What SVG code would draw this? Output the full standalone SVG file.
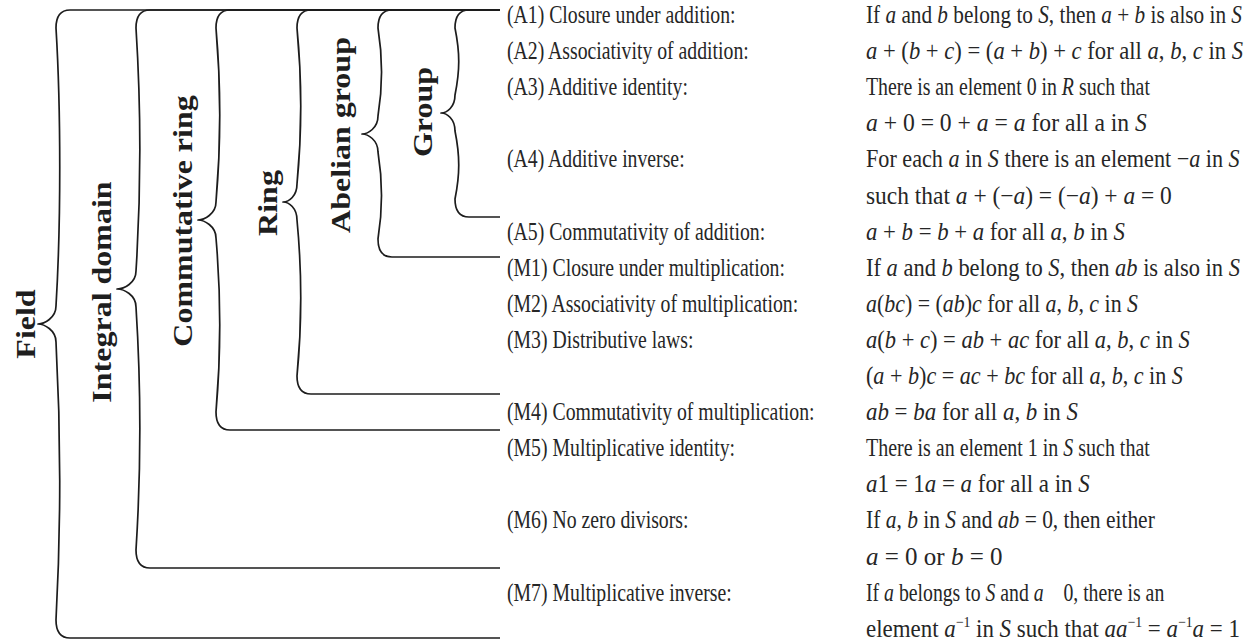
<svg xmlns="http://www.w3.org/2000/svg" width="1250" height="643" viewBox="0 0 1250 643">
  <style>
    .br { fill: none; stroke: #1c1c1c; stroke-width: 1.7; stroke-linejoin: round; }
    .lbl { font-family: "Liberation Serif", "Times New Roman", serif; font-weight: bold; font-size: 32px; fill: #1e1e1e; text-anchor: middle; }
    .ax { font-family: "Liberation Serif", "Times New Roman", serif; font-size: 25px; fill: #262626; }
    .i { font-style: italic; }
    .sup { font-size: 15px; }
  </style>
  <rect width="1250" height="643" fill="#ffffff"/>

  <!-- nested braces: each one spans the axioms its structure requires -->
  <g id="braces">
    <path class="br" d="M500 10 H70 C60 10 56 16 56 28 C61 111 61 223 56 306 C56 318 44 324 38 324 C44 324 56 330 56 342 C61 435 61 527 56 620 C56 632 60 638 70 638 H500"/>
    <path class="br" d="M500 10 H150 C140 10 136 16 136 28 C141 107 141 192 136 271 C136 283 124 289 117 289 C124 289 136 295 136 307 C141 386 141 471 136 550 C136 562 140 568 150 568 H500"/>
    <path class="br" d="M500 10 H230 C220 10 216 16 216 28 C221 86 221 144 216 202 C216 214 204 220 198 220 C204 220 216 226 216 238 C221 296 221 354 216 412 C216 424 220 430 230 430 H500"/>
    <path class="br" d="M500 10 H311 C301 10 297 16 297 28 C302 80 302 132 297 184 C297 196 289 202 283 202 C289 202 297 208 297 220 C302 272 302 324 297 376 C297 388 301 394 311 394 H500"/>
    <path class="br" d="M500 10 H392 C382 10 378 16 378 28 C383 59 383 85 378 116 C378 128 368 134 362 134 C368 134 378 140 378 152 C383 183 383 208 378 239 C378 251 382 257 392 257 H500"/>
    <path class="br" d="M500 10 H469 C459 10 455 16 455 28 C460 53 460 70 455 95 C455 107 447 113 441 113 C447 113 455 119 455 131 C460 156 460 174 455 199 C455 211 459 217 469 217 H500"/>
  </g>

  <!-- structure names, set vertically beside their brace tips -->
  <g id="field"><text class="lbl" transform="translate(35 324) rotate(-90) scale(1 0.85)">Field</text></g>
  <g id="integral-domain"><text class="lbl" transform="translate(111 292) rotate(-90) scale(1 0.85)">Integral domain</text></g>
  <g id="commutative-ring"><text class="lbl" transform="translate(192 221) rotate(-90) scale(1 0.85)">Commutative ring</text></g>
  <g id="ring"><text class="lbl" transform="translate(277 203) rotate(-90) scale(1 0.85)">Ring</text></g>
  <g id="abelian-group"><text class="lbl" transform="translate(350 135) rotate(-90) scale(1 0.85)">Abelian group</text></g>
  <g id="group"><text class="lbl" transform="translate(432 112) rotate(-90) scale(1 0.85)">Group</text></g>

  <!-- axiom names (narrow setting) -->
  <g id="axiom-names" class="ax">
    <text transform="translate(507 23) scale(0.79 1)">(A1) Closure under addition:</text>
    <text transform="translate(507 59.1) scale(0.79 1)">(A2) Associativity of addition:</text>
    <text transform="translate(507 95.2) scale(0.79 1)">(A3) Additive identity:</text>
    <text transform="translate(507 167.4) scale(0.79 1)">(A4) Additive inverse:</text>
    <text transform="translate(507 239.6) scale(0.79 1)">(A5) Commutativity of addition:</text>
    <text transform="translate(507 275.7) scale(0.79 1)">(M1) Closure under multiplication:</text>
    <text transform="translate(507 311.8) scale(0.79 1)">(M2) Associativity of multiplication:</text>
    <text transform="translate(507 347.9) scale(0.79 1)">(M3) Distributive laws:</text>
    <text transform="translate(507 420.1) scale(0.79 1)">(M4) Commutativity of multiplication:</text>
    <text transform="translate(507 456.2) scale(0.79 1)">(M5) Multiplicative identity:</text>
    <text transform="translate(507 528.4) scale(0.79 1)">(M6) No zero divisors:</text>
    <text transform="translate(507 600.6) scale(0.79 1)">(M7) Multiplicative inverse:</text>
  </g>

  <!-- axiom statements -->
  <g id="axiom-statements" class="ax">
    <text transform="translate(866 23) scale(0.85 1)">If <tspan class="i">a</tspan> and <tspan class="i">b</tspan> belong to <tspan class="i">S</tspan>, then <tspan class="i">a</tspan> + <tspan class="i">b</tspan> is also in <tspan class="i">S</tspan></text>
    <text transform="translate(866 59.1) scale(0.904 1)"><tspan class="i">a</tspan> + (<tspan class="i">b</tspan> + <tspan class="i">c</tspan>) = (<tspan class="i">a</tspan> + <tspan class="i">b</tspan>) + <tspan class="i">c</tspan> for all <tspan class="i">a</tspan>, <tspan class="i">b</tspan>, <tspan class="i">c</tspan> in <tspan class="i">S</tspan></text>
    <text transform="translate(866 95.2) scale(0.793 1)">There is an element 0 in <tspan class="i">R</tspan> such that</text>
    <text transform="translate(866 131.3) scale(0.945 1)"><tspan class="i">a</tspan> + 0 = 0 + <tspan class="i">a</tspan> = <tspan class="i">a</tspan> for all a in <tspan class="i">S</tspan></text>
    <text transform="translate(866 167.4) scale(0.887 1)">For each <tspan class="i">a</tspan> in <tspan class="i">S</tspan> there is an element −<tspan class="i">a</tspan> in <tspan class="i">S</tspan></text>
    <text transform="translate(866 203.5) scale(0.938 1)">such that <tspan class="i">a</tspan> + (−<tspan class="i">a</tspan>) = (−<tspan class="i">a</tspan>) + <tspan class="i">a</tspan> = 0</text>
    <text transform="translate(866 239.6) scale(0.91 1)"><tspan class="i">a</tspan> + <tspan class="i">b</tspan> = <tspan class="i">b</tspan> + <tspan class="i">a</tspan> for all <tspan class="i">a</tspan>, <tspan class="i">b</tspan> in <tspan class="i">S</tspan></text>
    <text transform="translate(866 275.7) scale(0.899 1)">If <tspan class="i">a</tspan> and <tspan class="i">b</tspan> belong to <tspan class="i">S</tspan>, then <tspan class="i">ab</tspan> is also in <tspan class="i">S</tspan></text>
    <text transform="translate(866 311.8) scale(0.876 1)"><tspan class="i">a</tspan>(<tspan class="i">bc</tspan>) = (<tspan class="i">ab</tspan>)<tspan class="i">c</tspan> for all <tspan class="i">a</tspan>, <tspan class="i">b</tspan>, <tspan class="i">c</tspan> in <tspan class="i">S</tspan></text>
    <text transform="translate(866 347.9) scale(0.901 1)"><tspan class="i">a</tspan>(<tspan class="i">b</tspan> + <tspan class="i">c</tspan>) = <tspan class="i">ab</tspan> + <tspan class="i">ac</tspan> for all <tspan class="i">a</tspan>, <tspan class="i">b</tspan>, <tspan class="i">c</tspan> in <tspan class="i">S</tspan></text>
    <text transform="translate(866 384) scale(0.885 1)">(<tspan class="i">a</tspan> + <tspan class="i">b</tspan>)<tspan class="i">c</tspan> = <tspan class="i">ac</tspan> + <tspan class="i">bc</tspan> for all <tspan class="i">a</tspan>, <tspan class="i">b</tspan>, <tspan class="i">c</tspan> in <tspan class="i">S</tspan></text>
    <text transform="translate(866 420.1) scale(0.916 1)"><tspan class="i">ab</tspan> = <tspan class="i">ba</tspan> for all <tspan class="i">a</tspan>, <tspan class="i">b</tspan> in <tspan class="i">S</tspan></text>
    <text transform="translate(866 456.2) scale(0.799 1)">There is an element 1 in <tspan class="i">S</tspan> such that</text>
    <text transform="translate(866 492.3) scale(0.917 1)"><tspan class="i">a</tspan>1 = 1<tspan class="i">a</tspan> = <tspan class="i">a</tspan> for all a in <tspan class="i">S</tspan></text>
    <text transform="translate(866 528.4) scale(0.859 1)">If <tspan class="i">a</tspan>, <tspan class="i">b</tspan> in <tspan class="i">S</tspan> and <tspan class="i">ab</tspan> = 0, then either</text>
    <text transform="translate(866 564.5) scale(1 1)"><tspan class="i">a</tspan> = 0 or <tspan class="i">b</tspan> = 0</text>
    <text transform="translate(866 600.6) scale(0.79 1)">If <tspan class="i">a</tspan> belongs to <tspan class="i">S</tspan> and <tspan class="i">a</tspan> &#8194; 0, there is an</text>
    <text transform="translate(866 636.7) scale(0.917 1)">element <tspan class="i">a</tspan><tspan class="sup" dy="-10">−1</tspan><tspan dy="10"> in </tspan><tspan class="i">S</tspan> such that <tspan class="i">aa</tspan><tspan class="sup" dy="-10">−1</tspan><tspan dy="10"> = </tspan><tspan class="i">a</tspan><tspan class="sup" dy="-10">−1</tspan><tspan class="i" dy="10">a</tspan> = 1</text>
  </g>
</svg>
